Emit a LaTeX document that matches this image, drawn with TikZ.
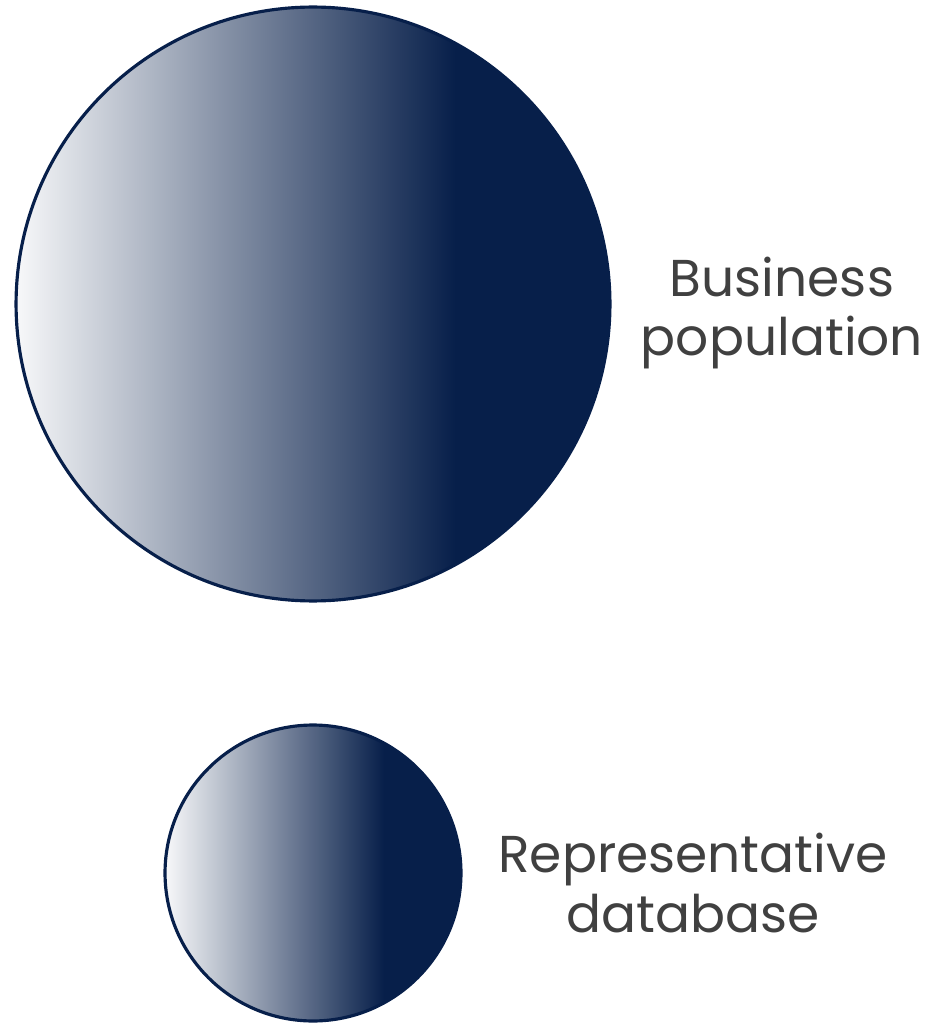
\documentclass[tikz,border=0pt]{standalone}
\usepackage{fontspec}
\setmainfont{Poppins}
\definecolor{navy}{RGB}{7,31,74}
\definecolor{labelgray}{RGB}{64,64,64}
\pgfdeclarehorizontalshading{fadenavy}{100bp}{color(0bp)=(white); color(25bp)=(white!97!navy); color(62bp)=(navy); color(100bp)=(navy)}
\tikzset{
  setcircle/.style={circle, draw=navy, line width=1.8pt, shading=fadenavy, inner sep=0pt},
  setlabel/.style={text=labelgray, font=\fontsize{29.5}{34}\selectfont, align=center, inner sep=0pt}
}
\begin{document}
\begin{tikzpicture}[x=0.02cm, y=-0.02cm]
\useasboundingbox (0,0) rectangle (930,1023);
% circles
\node[setcircle, minimum size=11.88cm] (population) at (313,304) {};
\node[setcircle, minimum size=5.92cm] (database) at (313,873) {};
% labels
\node[setlabel] (poplabel) at (782,313) {Business\\population};
\node[setlabel] (dblabel) at (693,883) {Representative\\database};
\end{tikzpicture}
\end{document}
